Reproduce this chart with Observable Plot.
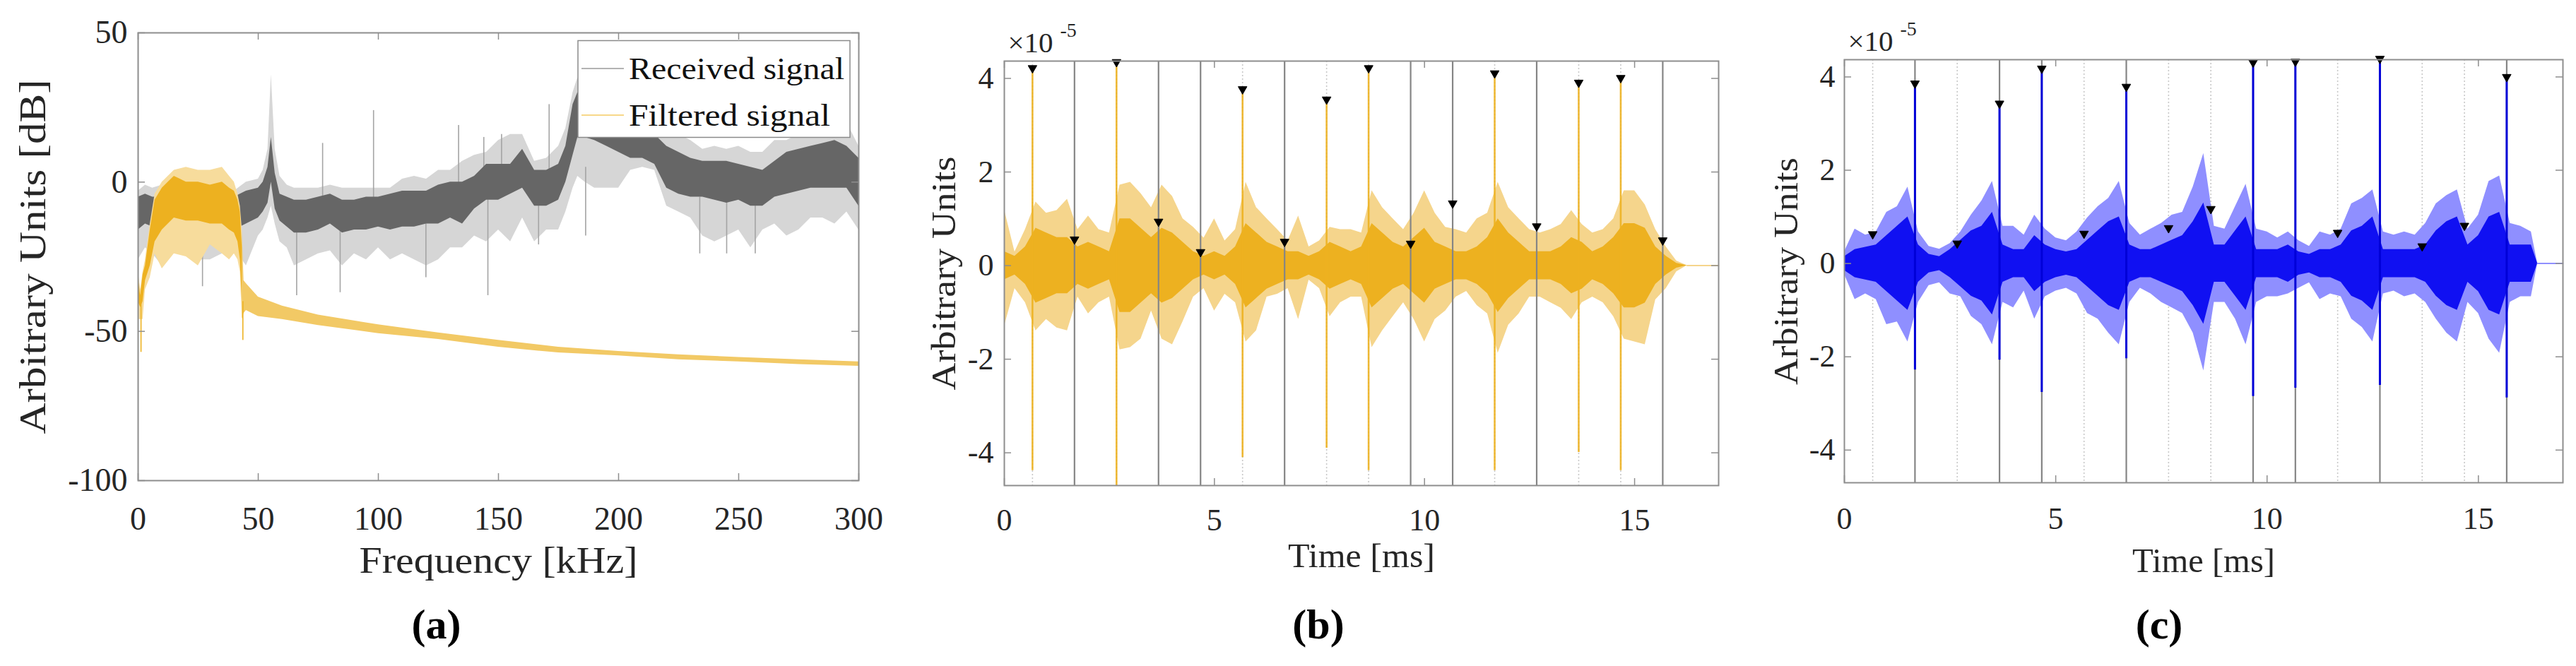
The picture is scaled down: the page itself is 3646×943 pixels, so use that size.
<!DOCTYPE html>
<html>
<head>
<meta charset="utf-8">
<script src="https://cdn.jsdelivr.net/npm/d3@7"></script>
<script src="https://cdn.jsdelivr.net/npm/@observablehq/plot@0.6"></script>
<style>
html,body{margin:0;padding:0;background:#fff;}
#root{position:relative;width:3646px;height:943px;overflow:hidden;background:#fff;}
.panel{position:absolute;top:0;}
.panel svg{overflow:visible;}
#root svg text{font-family:'Liberation Serif','Times New Roman',serif !important;}
</style>
</head>
<body>
<div id="root"></div>
<script>
// ---------------- Panel (a): spectrum ----------------
const freqRecv = [0,3,6,10,15,20,25,30,35,40,45,50,52,54,55.4,57,59,62,65,70,75,80,85,90,95,100,105,110,115,120,125,130,135,140,145,150,155,160,165,170,175,178,181,183,186,190,195,200,205,210,215,220,225,230,235,240,245,250,255,260,265,270,275,280,285,290,295,300];
const recvOuterHi = [-3,-1,-2,-1,-2,-2,-2,-2,-2,-3, 0,1,4,11,36,11,2,-1,-2,-2, -2,-1,-2,-2,-2,-2,-2,1,2,1, 4,4,7,9,10,14,16,16,7,8, 12,18,30,35,30,28,25,22,22,22, 22,18,16,14,11,12,11,12,10,10, 14,14,16,15,16,16,20,12];
const recvCoreHi = [-5,-4,-5,-5,-6,-6,-5,-5,-4,-5, -3,-2,0,5,15,3,-4,-5,-6,-6, -5,-4,-6,-6,-5,-5,-4,-3,-3,-3, -1,0,0,2,6,6,6,11,4,4, 6,12,26,30,28,25,22,20,18,18, 16,12,10,8,7,7,7,6,5,4, 7,10,11,12,13,14,12,8];
const recvCoreLo = [-16,-14,-15,-15,-15,-15,-16,-16,-15,-16, -14,-12,-10,-7,0,-9,-13,-15,-17,-17, -16,-14,-17,-16,-16,-15,-16,-15,-15,-14, -14,-12,-14,-9,-6,-6,-4,-2,-8,-8, -6,0,9,15,15,14,12,10,8,8, 6,-2,-4,-5,-5,-6,-7,-6,-8,-8, -5,-4,-3,-2,-2,-2,-2,-8];
const recvOuterLo = [-26,-22,-24,-28,-22,-24,-26,-26,-24,-22, -28,-18,-16,-12,-8,-14,-20,-22,-28,-26, -24,-23,-28,-24,-26,-22,-26,-24,-26,-28, -26,-22,-22,-18,-20,-16,-20,-12,-20,-16, -16,-10,-2,2,0,-2,-2,-2,4,5, 4,-8,-10,-12,-18,-20,-18,-16,-22,-16, -14,-18,-16,-12,-12,-14,-10,-16];
const recvSpikeF   = [26.8,66,76.8,84.1,98,119.8,133.4,143.9,145.6,151.3,171.1,186.3,233.8,245,256.9,166.7];
const recvSpikeTop = [-12,-12,13,-12,24,-12,19,15,-6,16,26,5,-5,-5,-5,0];
const recvSpikeBot = [-35,-38,-6,-37,-8,-32,-4,0,-38,2,2,-18,-24,-24,-24,-21];

const freqFilt = [0,1,2,3,5,7,10,15,20,25,30,35,38,40,41.5,42.5,43.3,44,45,50,60,75,100,125,150,175,200,225,250,275,300];
const filtOuterHi = [-30,-36,-30,-26,-14,-4,0,4,5,4,4,5,2,0,-4,-8,-16,-33,-34,-38.5,-41.5,-44.5,-47.8,-50.5,-53,-55.3,-56.7,-57.8,-58.7,-59.5,-60.2];
const filtOuterLo = [-46,-46,-46,-36,-32,-24,-29,-24,-25,-28,-21,-24,-26,-24,-26,-30,-46,-44,-43,-45,-46,-48,-50.7,-52.7,-55.3,-57.2,-58.2,-59.5,-60.2,-61.1,-61.7];
const filtCoreHi = [-32,-38,-31,-28,-16,-6,-2,2,0,0,-1,0,-2,-3,-6,-10,-22,null,null,null,null,null,null,null,null,null,null,null,null,null,null];
const filtCoreLo = [-40,-42,-40,-33,-28,-20,-16,-12,-13,-13,-14,-14,-16,-17,-20,-26,-40,null,null,null,null,null,null,null,null,null,null,null,null,null,null];
const filtSpikeF = [1.2,43.6];
const filtSpikeTop = [-38,-40];
const filtSpikeBot = [-57,-53];

const xTicksA = [0,50,100,150,200,250,300];
const yTicksA = [-100,-50,0,50];
const legendLabels = ["Received signal","Filtered signal"];
const legendColors = ["#9a9a9a","#F5CB62"];

// ---------------- Panels (b) and (c): time signals (x 1e-5) ----------------
const timeB = [0,0.25,0.5,0.75,1,1.25,1.5,1.75,2,2.25,2.5,2.75,3,3.25,3.5,3.75,4,4.25,4.5,4.75,5,5.25,5.5,5.75,6,6.25,6.5,6.75,7,7.25,7.5,7.75,8,8.25,8.5,8.75,9,9.25,9.5,9.75,10,10.25,10.5,10.75,11,11.25,11.5,11.75,12,12.25,12.5,12.75,13,13.25,13.5,13.75,14,14.25,14.5,14.75,15,15.25,15.5,15.75,16,16.25];
const bHi = [1.2,0.29,0.77,1.36,1.12,1.18,1.42,0.77,1.06,0.77, 0.7,1.72,1.78,1.54,1.24,1.72,1.48,1.0,0.82,0.59, 1.0,0.53,0.77,1.78,1.24,1.0,0.77,0.53,1.06,0.4, 0.53,0.82,0.77,0.77,0.7,1.6,1.24,1.0,0.77,1.12, 1.6,1.12,0.82,0.77,0.7,1.0,1.12,1.78,1.24,1.0, 0.77,0.7,0.77,0.88,1.18,0.88,0.7,0.77,1.0,1.6, 1.6,1.3,0.77,0.4,0.1,0];
const bLo = [-1.3,-0.49,-0.79,-1.39,-1.15,-1.33,-1.39,-0.67,-1.03,-0.79, -0.67,-1.8,-1.75,-1.57,-0.97,-1.57,-1.69,-1.2,-0.67,-0.49, -0.97,-0.61,-0.79,-1.63,-1.39,-0.67,-0.61,-0.49,-1.15,-0.31, -0.49,-1.09,-0.79,-0.67,-0.67,-1.75,-1.39,-1.09,-0.79,-1.15, -1.63,-1.15,-0.97,-0.67,-0.55,-0.85,-1.03,-1.87,-1.27,-1.03, -0.67,-0.67,-0.79,-0.91,-1.15,-0.79,-0.67,-0.79,-1.09,-1.57, -1.63,-1.69,-0.73,-0.49,-0.13,0];
const bCore = [0.3,0.2,0.4,0.8,0.7,0.6,0.6,0.4,0.5,0.4, 0.3,1.0,1.0,0.8,0.6,0.8,0.7,0.5,0.3,0.2, 0.3,0.2,0.4,0.9,0.7,0.5,0.4,0.3,0.3,0.2, 0.3,0.5,0.4,0.3,0.4,0.9,0.7,0.5,0.4,0.6, 0.8,0.5,0.4,0.3,0.3,0.4,0.6,1.0,0.7,0.5, 0.3,0.3,0.3,0.4,0.6,0.5,0.3,0.4,0.6,0.9, 0.9,0.8,0.4,0.2,0.05,0];
const bTailT = [16.25,17];
const bTailV = [0,0];
const bSpikeT = [0.67,2.67,5.67,7.67,8.67,11.67,13.67,14.67];
const bSpikeTop = [4.22,4.35,3.77,3.55,4.22,4.11,3.91,4.01];
const bSpikeBot = [-4.38,-4.7,-4.1,-3.9,-4.38,-4.38,-3.99,-4.38];

const timeC = [0,0.25,0.5,0.75,1,1.25,1.5,1.75,2,2.25,2.5,2.75,3,3.25,3.5,3.75,4,4.25,4.5,4.75,5,5.25,5.5,5.75,6,6.25,6.5,6.75,7,7.25,7.5,7.75,8,8.25,8.5,8.75,9,9.25,9.5,9.75,10,10.25,10.5,10.75,11,11.25,11.5,11.75,12,12.25,12.5,12.75,13,13.25,13.5,13.75,14,14.25,14.5,14.75,15,15.25,15.5,15.75,16,16.25,16.4];
const cHi = [0.25,0.74,0.61,0.68,1.1,1.22,1.64,0.68,0.37,0.31, 0.43,0.68,1.04,1.34,1.76,0.8,0.8,0.61,1.04,0.74, 0.55,0.49,0.68,0.98,1.22,1.4,1.76,0.86,0.61,0.74, 0.86,1.04,1.1,1.64,2.36,0.8,0.74,1.22,1.7,0.74, 0.68,0.55,0.68,0.49,0.37,0.68,0.61,0.74,1.28,1.4, 1.58,0.68,0.61,0.68,0.61,0.86,1.28,1.46,1.58,0.74, 1.04,1.76,1.88,0.86,0.8,0.68,0];
const cLo = [-0.23,-0.77,-0.65,-0.77,-1.31,-1.25,-1.68,-0.83,-0.47,-0.41, -0.65,-0.71,-1.13,-1.31,-1.74,-0.83,-0.95,-0.59,-1.19,-0.71, -0.59,-0.53,-0.65,-1.07,-1.19,-1.49,-1.74,-0.83,-0.53,-0.65, -0.83,-0.95,-1.07,-1.49,-2.3,-0.83,-0.83,-1.19,-1.74,-0.83, -0.71,-0.71,-0.65,-0.53,-0.41,-0.77,-0.65,-0.71,-1.19,-1.37, -1.68,-0.65,-0.59,-0.71,-0.65,-0.83,-1.19,-1.49,-1.68,-0.83, -1.07,-1.62,-1.92,-0.83,-0.71,-0.71,0];
const cCore = [0.15,0.3,0.35,0.4,0.6,0.8,1.0,0.4,0.2,0.15, 0.3,0.5,0.7,0.8,1.1,0.4,0.3,0.3,0.6,0.4, 0.3,0.25,0.3,0.5,0.7,0.9,1.0,0.4,0.3,0.3, 0.4,0.5,0.6,0.9,1.3,0.4,0.4,0.7,1.0,0.3, 0.3,0.3,0.4,0.25,0.2,0.3,0.3,0.4,0.7,0.8, 1.0,0.3,0.3,0.3,0.3,0.4,0.7,0.9,1.0,0.4, 0.6,1.0,1.1,0.4,0.4,0.4,0];
const cTailT = [16.4,17];
const cTailV = [0,0];
const cSpikeT = [1.67,3.67,4.67,6.67,9.67,10.67,12.67,15.67];
const cSpikeTop = [3.86,3.43,4.18,3.79,4.31,4.33,4.39,4.0];
const cSpikeBot = [-2.28,-2.07,-2.76,-2.04,-2.85,-2.67,-2.61,-2.88];

const markT = [0.67,1.67,2.67,3.67,4.67,5.67,6.67,7.67,8.67,9.67,10.67,11.67,12.67,13.67,14.67,15.67];
const bMark = [4.22,0.56,4.35,0.94,0.29,3.77,0.51,3.55,4.22,0.47,1.33,4.11,0.84,3.91,4.01,0.54];
const cMark = [0.63,3.86,0.43,3.43,4.18,0.64,3.79,0.76,1.17,4.31,4.33,0.66,4.39,0.37,0.81,4.0];
const solidLineT = [1.67,3.67,4.67,6.67,9.67,10.67,12.67,15.67];
const dottedLineT = [0.67,2.67,5.67,7.67,8.67,11.67,13.67,14.67];

const xTicksT = [0,5,10,15];
const yTicksT = [-4,-2,0,2,4];
const xLabelA = "Frequency [kHz]";
const yLabelA = "Arbitrary Units [dB]";
const xLabelT = "Time [ms]";
const yLabelT = "Arbitrary Units";
const panelLetters = ["(a)","(b)","(c)"];

// ---------------- styling ----------------
const FONT = "'Liberation Serif','Times New Roman',serif";
const FRAME = "#8e8e8e";
const INK = "#262626";

function inwardTicks(xt, yt, W, H) {
  const o = {stroke: FRAME, strokeWidth: 1.5};
  return [
    Plot.ruleX(xt, {x: d => d, insetTop: H - 10, ...o}),
    Plot.ruleX(xt, {x: d => d, insetBottom: H - 10, ...o}),
    Plot.ruleY(yt, {y: d => d, insetRight: W - 10, ...o}),
    Plot.ruleY(yt, {y: d => d, insetLeft: W - 10, ...o})
  ];
}

// stretch labels to the widths of the original (Computer Modern is wider than Times)
function fitWidths(svg, lengths) {
  d3.select(svg).selectAll("text").each(function () {
    const L = lengths[this.textContent];
    if (L) { this.setAttribute("textLength", L); this.setAttribute("lengthAdjust", "spacingAndGlyphs"); }
  });
}

const root = document.getElementById("root");
function place(node, left) {
  const div = document.createElement("div");
  div.className = "panel";
  div.style.left = left + "px";
  div.appendChild(node);
  root.appendChild(div);
}

// ---- panel a ----
const recvRows = freqRecv.map((f, i) => ({f, oh: recvOuterHi[i], ch: recvCoreHi[i], cl: recvCoreLo[i], ol: recvOuterLo[i]}));
const recvSpikes = recvSpikeF.map((f, i) => ({f, top: recvSpikeTop[i], bot: recvSpikeBot[i]}));
const filtRows = freqFilt.map((f, i) => ({f, oh: filtOuterHi[i], ol: filtOuterLo[i], ch: filtCoreHi[i], cl: filtCoreLo[i]}));
const filtSpikes = filtSpikeF.map((f, i) => ({f, top: filtSpikeTop[i], bot: filtSpikeBot[i]}));

const A = {left: 195, right: 1215, top: 46, bottom: 680, w: 1290};
const textA = {fontFamily: FONT, fill: INK, lineAnchor: "middle"};
const plotA = Plot.plot({
  width: A.w, height: 943,
  marginLeft: A.left, marginRight: A.w - A.right, marginTop: A.top, marginBottom: 943 - A.bottom,
  x: {domain: [0, 300]},
  y: {domain: [-100, 50]},
  style: {background: "transparent", fontFamily: FONT, color: INK},
  marks: [
    Plot.areaY(recvRows, {x: "f", y1: "ol", y2: "oh", fill: "#d6d6d6"}),
    Plot.ruleX(recvSpikes, {x: "f", y1: "bot", y2: "top", stroke: "#a4a4a4", strokeWidth: 1.6}),
    Plot.areaY(recvRows, {x: "f", y1: "cl", y2: "ch", fill: "#666666"}),
    Plot.areaY(filtRows, {x: "f", y1: "ol", y2: "oh", fill: "#F7DC9C", filter: d => d.f <= 43.3}),
    Plot.areaY(filtRows, {x: "f", y1: "ol", y2: "oh", fill: "#F2C965", filter: d => d.f >= 43.3}),
    Plot.areaY(filtRows, {x: "f", y1: "cl", y2: "ch", fill: "#EDB120"}),
    Plot.ruleX(filtSpikes, {x: "f", y1: "bot", y2: "top", stroke: "#EDB120", strokeWidth: 1.6}),
    Plot.frame({stroke: FRAME, strokeWidth: 2}),
    ...inwardTicks(xTicksA, yTicksA, A.right - A.left, A.bottom - A.top),
    Plot.axisX(xTicksA, {tickSize: 0, tickPadding: 37, fontSize: 46, fontFamily: FONT, label: null, tickFormat: d => String(d)}),
    Plot.axisY(yTicksA, {tickSize: 0, tickPadding: 15, fontSize: 46, fontFamily: FONT, label: null, tickFormat: d => String(d)}),
    Plot.text([xLabelA], {text: d => d, frameAnchor: "bottom", textAnchor: "middle", dy: 114, fontSize: 53, ...textA}),
    Plot.text([yLabelA], {text: d => d, frameAnchor: "left", textAnchor: "middle", dx: -148, rotate: -90, fontSize: 53, ...textA}),
    Plot.text([panelLetters[0]], {text: d => d, frameAnchor: "bottom", textAnchor: "middle", dx: -88, dy: 204, fontSize: 60, fontWeight: "bold", fontFamily: FONT, fill: "#000", lineAnchor: "middle"})
  ]
});
fitWidths(plotA, {[xLabelA]: 394, [yLabelA]: 502});
place(plotA, 0);

// ---- panels b / c ----
function timePanel(cfg) {
  const rows = cfg.t.map((t, i) => ({t, hi: cfg.hi[i], lo: cfg.lo[i], core: cfg.core[i]}));
  const tail = cfg.tailT.map((t, i) => ({t, v: cfg.tailV[i]}));
  const spikes = cfg.spikeT.map((t, i) => ({t, top: cfg.spikeTop[i], bot: cfg.spikeBot[i]}));
  const marks = markT.map((t, i) => ({t, v: cfg.mark[i]}));
  const W = cfg.right - cfg.left, H = cfg.bottom - cfg.top;
  const solid = Plot.ruleX(solidLineT, {x: d => d, stroke: "#858585", strokeWidth: 2.2});
  const dotted = Plot.ruleX(dottedLineT, {x: d => d, stroke: "#c8c8c8", strokeWidth: 1.6, strokeDasharray: "2,3"});
  const signal = [
    Plot.areaY(rows, {x: "t", y1: "lo", y2: "hi", fill: cfg.light}),
    Plot.areaY(rows, {x: "t", y1: d => -d.core, y2: "core", fill: cfg.dense}),
    Plot.lineY(tail, {x: "t", y: "v", stroke: cfg.light, strokeWidth: 2}),
    Plot.ruleX(spikes, {x: "t", y1: "bot", y2: "top", stroke: cfg.spike, strokeWidth: cfg.spikeWidth, strokeOpacity: cfg.spikeOpacity})
  ];
  const tx = {fontFamily: FONT, fill: INK, lineAnchor: "middle"};
  const p = Plot.plot({
    width: cfg.w, height: 943,
    marginLeft: cfg.left, marginRight: cfg.w - cfg.right, marginTop: cfg.top, marginBottom: 943 - cfg.bottom,
    x: {domain: [0, 17]},
    y: {domain: [-4.7, 4.37]},
    style: {background: "transparent", fontFamily: FONT, color: INK},
    marks: [
      dotted,
      ...(cfg.linesOnTop ? [...signal, solid] : [solid, ...signal]),
      Plot.dot(marks, {x: "t", y: "v", symbol: "triangle", r: 4.6, fill: "#000", stroke: "#000", strokeWidth: 1, rotate: 180}),
      Plot.frame({stroke: FRAME, strokeWidth: 2}),
      ...inwardTicks(xTicksT, yTicksT, W, H),
      Plot.axisX(xTicksT, {tickSize: 0, tickPadding: cfg.xPad, fontSize: 44, fontFamily: FONT, label: null, tickFormat: d => String(d)}),
      Plot.axisY(yTicksT, {tickSize: 0, tickPadding: cfg.yPad, fontSize: 44, fontFamily: FONT, label: null, tickFormat: d => String(d)}),
      Plot.text(["\u00d710"], {text: d => d, frameAnchor: "top-left", textAnchor: "start", dx: 5, dy: -26, fontSize: 41, ...tx}),
      Plot.text(["-5"], {text: d => d, frameAnchor: "top-left", textAnchor: "start", dx: 79, dy: -43, fontSize: 28, ...tx}),
      Plot.text([xLabelT], {text: d => d, frameAnchor: "bottom", textAnchor: "middle", dy: cfg.xLabelDy, fontSize: 49, ...tx}),
      Plot.text([yLabelT], {text: d => d, frameAnchor: "left", textAnchor: "middle", dx: cfg.yLabelDx, rotate: -90, fontSize: 49, ...tx}),
      Plot.text([cfg.letter], {text: d => d, frameAnchor: "bottom", textAnchor: "middle", dx: cfg.letterDx, dy: cfg.letterDy, fontSize: 60, fontWeight: "bold", fontFamily: FONT, fill: "#000", lineAnchor: "middle"})
    ]
  });
  fitWidths(p, {[xLabelT]: cfg.xLabelLen, [yLabelT]: cfg.yLabelLen});
  return p;
}

const plotB = timePanel({
  t: timeB, hi: bHi, lo: bLo, core: bCore, tailT: bTailT, tailV: bTailV,
  spikeT: bSpikeT, spikeTop: bSpikeTop, spikeBot: bSpikeBot, mark: bMark,
  light: "#F5D58C", dense: "#EDB120", spike: "#EDB120", spikeWidth: 2.6, spikeOpacity: 0.9, linesOnTop: true,
  w: 1230, left: 181, right: 1192, top: 86, bottom: 687,
  xPad: 32, yPad: 15, xLabelDy: 100, yLabelDx: -85, letter: panelLetters[1], letterDx: -61, letterDy: 197,
  xLabelLen: 208, yLabelLen: 331
});
place(plotB, 1240);

const plotC = timePanel({
  t: timeC, hi: cHi, lo: cLo, core: cCore, tailT: cTailT, tailV: cTailV,
  spikeT: cSpikeT, spikeTop: cSpikeTop, spikeBot: cSpikeBot, mark: cMark,
  light: "#8f8fff", dense: "#1010f2", spike: "#0000d8", spikeWidth: 3, spikeOpacity: 1, linesOnTop: false,
  w: 1206, left: 170, right: 1187, top: 84, bottom: 683,
  xPad: 34, yPad: 13, xLabelDy: 111, yLabelDx: -82, letter: panelLetters[2], letterDx: -63, letterDy: 201,
  xLabelLen: 202, yLabelLen: 322
});
place(plotC, 2440);

// ---- legend of panel a (inside the axes, top-right) ----
const legendLens = [305, 285];
const leg = d3.create("svg")
  .attr("width", 3646).attr("height", 943)
  .style("position", "absolute").style("left", "0px").style("top", "0px").style("pointer-events", "none");
leg.append("rect").attr("x", 818).attr("y", 57.5).attr("width", 385).attr("height", 137)
  .attr("fill", "#fff").attr("stroke", "#8a8a8a").attr("stroke-width", 1.5);
const rowsL = leg.selectAll("g.row").data(legendLabels).join("g").attr("class", "row")
  .attr("transform", (d, i) => `translate(0,${97 + i * 66})`);
rowsL.append("line").attr("x1", 823).attr("x2", 883).attr("y1", 0).attr("y2", 0)
  .attr("stroke", (d, i) => legendColors[i]).attr("stroke-width", 1.6);
rowsL.append("text").attr("x", 890).attr("y", 0).attr("dy", "0.33em")
  .attr("font-family", FONT).attr("font-size", 45).attr("fill", "#111")
  .attr("textLength", (d, i) => legendLens[i]).attr("lengthAdjust", "spacingAndGlyphs")
  .text(d => d);
root.appendChild(leg.node());
</script>
</body>
</html>
